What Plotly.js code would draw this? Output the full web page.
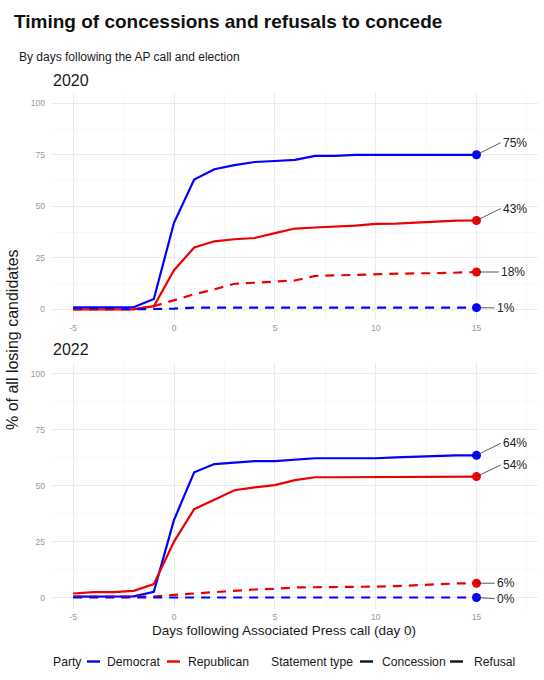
<!DOCTYPE html>
<html>
<head>
<meta charset="utf-8">
<script src="https://cdn.plot.ly/plotly-3.0.1.min.js"></script>
<style>html,body{margin:0;padding:0;background:#fff;}#chart{width:544px;height:680px;}</style>
</head>
<body>
<div id="chart"></div>
<script>
// ---- Data ----
const days = [-5,-4,-3,-2,-1,0,1,2,3,4,5,6,7,8,9,10,11,12,13,14,15];

const dem2020Concession = [1,1,1,1,5,42,63,68,70,71.5,72,72.5,74.5,74.5,75,75,75,75,75,75,75];
const rep2020Concession = [0,0,0,0,1.5,19,30,33,34,34.6,37,39.2,39.7,40.1,40.6,41.5,41.6,42.1,42.6,43,43.1];
const dem2020Refusal    = [0.5,0.5,0.5,0,0,0.3,0.8,0.8,0.8,0.8,0.8,0.8,0.8,0.8,0.8,0.8,0.8,0.8,0.8,0.8,0.8];
const rep2020Refusal    = [0,0,0,0,1.5,4.5,7.3,9.7,12.4,12.9,13.4,14,16.2,16.5,16.8,17,17.2,17.5,17.5,17.8,18.1];

const dem2022Concession = [0.4,0.5,0.5,0.5,2.6,34.7,56,59.7,60.3,61,61,61.8,62.3,62.3,62.3,62.3,62.7,63,63.6,63.6,63.6];
const rep2022Concession = [1.8,2.4,2.4,3,6,25,39.5,43.6,48,49.3,50.3,52.5,53.8,53.8,53.8,53.8,53.8,53.8,53.8,54.1,54.1];
const dem2022Refusal    = [0,0,0,0,0,0,0,0,0,0,0,0,0,0,0,0,0,0,0,0,0];
const rep2022Refusal    = [0.4,0.4,0.4,0.4,0.4,1.2,1.8,2.4,3.1,3.6,3.9,4.5,4.6,4.6,4.9,4.9,5.1,5.5,6.1,6.3,6.4];

const xTickVals = [-5,0,5,10,15];
const xTickText = ['-5','0','5','10','15'];
const yTickVals = [0,25,50,75,100];
const yTickText = ['0','25','50','75','100'];

const partyNames = ['Democrat','Republican'];
const statementNames = ['Concession','Refusal'];

// ---- Styles ----
const BLUE = '#0000FF';
const RED = '#EE0000';
const FONT = '"Liberation Sans", Arial, sans-serif';
const DASH = '9px,7px';

const W = 544, H = 680, ML = 52, MR = 6;
const PW = W - ML - MR;
const px = p => (p - ML) / PW;
const py = p => 1 - p / H;

const series = [
  {y: dem2020Concession, color: BLUE, dash: 'solid', ax: 'y',  lab: [16.2, 80.9]},
  {y: rep2020Concession, color: RED,  dash: 'solid', ax: 'y',  lab: [16.2, 48.9]},
  {y: rep2020Refusal,    color: RED,  dash: DASH,    ax: 'y',  lab: [16.1, 18.1]},
  {y: dem2020Refusal,    color: BLUE, dash: DASH,    ax: 'y',  lab: [15.9, 0.7]},
  {y: dem2022Concession, color: BLUE, dash: 'solid', ax: 'y2', lab: [16.2, 69.0]},
  {y: rep2022Concession, color: RED,  dash: 'solid', ax: 'y2', lab: [16.2, 59.3]},
  {y: rep2022Refusal,    color: RED,  dash: DASH,    ax: 'y2', lab: [15.9, 6.4]},
  {y: dem2022Refusal,    color: BLUE, dash: DASH,    ax: 'y2', lab: [15.9, -0.5]}
];

const traces = [];
const annotations = [];
series.forEach(s => {
  const xa = s.ax === 'y' ? 'x' : 'x2';
  traces.push({
    x: days, y: s.y, xaxis: xa, yaxis: s.ax, type: 'scatter', mode: 'lines',
    line: {color: s.color, width: 2.2, dash: s.dash}, showlegend: false, hoverinfo: 'skip'
  });
  const lx = days[days.length - 1], ly = s.y[s.y.length - 1];
  traces.push({
    x: [lx], y: [ly], xaxis: xa, yaxis: s.ax, type: 'scatter', mode: 'markers',
    marker: {color: s.color, size: 9}, showlegend: false, hoverinfo: 'skip'
  });
  annotations.push({
    x: lx, y: ly, xref: xa, yref: s.ax,
    ax: s.lab[0], ay: s.lab[1], axref: xa, ayref: s.ax,
    text: Math.round(ly) + '%', showarrow: true, arrowhead: 0, arrowwidth: 0.8,
    arrowcolor: '#333', standoff: 0, xanchor: 'left', yanchor: 'middle',
    font: {family: FONT, size: 12, color: '#222'}
  });
});

// Static text
const txt = (text, x, y, size, opts) => Object.assign({
  text: text, xref: 'paper', yref: 'paper', x: px(x), y: py(y), showarrow: false,
  xanchor: 'left', yanchor: 'middle', font: {family: FONT, size: size, color: '#1a1a1a'}
}, opts || {});

annotations.push(txt('By days following the AP call and election', 16.5, 57, 12));
annotations.push(txt('2020', 51, 80, 16));
annotations.push(txt('2022', 51, 350, 16));
annotations.push(txt('% of all losing candidates', 12, 340, 16, {xanchor: 'center', textangle: -90}));
annotations.push(txt('Days following Associated Press call (day 0)', 284, 630, 13.5, {xanchor: 'center'}));

// Legend (drawn as text + short key lines)
const LY = 661.5;
annotations.push(txt('Party', 51, LY, 12.2));
annotations.push(txt(partyNames[0], 105, LY, 12.2));
annotations.push(txt(partyNames[1], 186, LY, 12.2));
annotations.push(txt('Statement type', 269, LY, 12.2));
annotations.push(txt(statementNames[0], 380, LY, 12.2));
annotations.push(txt(statementNames[1], 472, LY, 12.2));

const key = (x0, x1, color, dash) => ({
  type: 'line', xref: 'paper', yref: 'paper', x0: px(x0), x1: px(x1), y0: py(LY), y1: py(LY),
  line: {color: color, width: 2.4, dash: dash || 'solid'}
});
const shapes = [
  key(87, 100, BLUE), key(167, 180, RED), key(360, 373, '#111'), key(450, 463, '#111')
];

const xaxisBase = {
  range: [-6.05, 18.05], tickvals: xTickVals, ticktext: xTickText, showline: false, zeroline: false,
  ticks: '', showgrid: true, gridcolor: '#ebebeb', gridwidth: 1,
  minor: {tickvals: [-2.5, 2.5, 7.5, 12.5, 17.5], showgrid: true, gridcolor: '#f4f4f4', gridwidth: 0.7},
  tickfont: {family: FONT, size: 8.5, color: '#999'}, ticklabelstandoff: 2, fixedrange: true
};
const yaxisBase = {
  range: [-5, 105], tickvals: yTickVals, ticktext: yTickText, showline: false, zeroline: false,
  ticks: '', showgrid: true, gridcolor: '#ebebeb', gridwidth: 1,
  minor: {tickvals: [12.5, 37.5, 62.5, 87.5], showgrid: true, gridcolor: '#f4f4f4', gridwidth: 0.7},
  tickfont: {family: FONT, size: 8.5, color: '#999'}, ticklabelstandoff: 6, fixedrange: true
};

const layout = {
  width: W, height: H,
  margin: {l: ML, r: MR, t: 0, b: 0},
  paper_bgcolor: '#fff', plot_bgcolor: '#fff',
  showlegend: false,
  title: {
    text: '<b>Timing of concessions and refusals to concede</b>',
    xref: 'container', yref: 'container', x: 14 / W, y: 1 - 21.5 / H,
    xanchor: 'left', yanchor: 'middle',
    font: {family: FONT, size: 19, color: '#111'}
  },
  xaxis: Object.assign({}, xaxisBase, {domain: [0, 1], anchor: 'y'}),
  yaxis: Object.assign({}, yaxisBase, {domain: [1 - 319.6 / H, 1 - 93 / H], anchor: 'x'}),
  xaxis2: Object.assign({}, xaxisBase, {domain: [0, 1], anchor: 'y2'}),
  yaxis2: Object.assign({}, yaxisBase, {domain: [1 - 608.7 / H, 1 - 362.8 / H], anchor: 'x2'}),
  annotations: annotations,
  shapes: shapes
};

Plotly.newPlot('chart', traces, layout, {displayModeBar: false, staticPlot: true});
</script>
</body>
</html>
